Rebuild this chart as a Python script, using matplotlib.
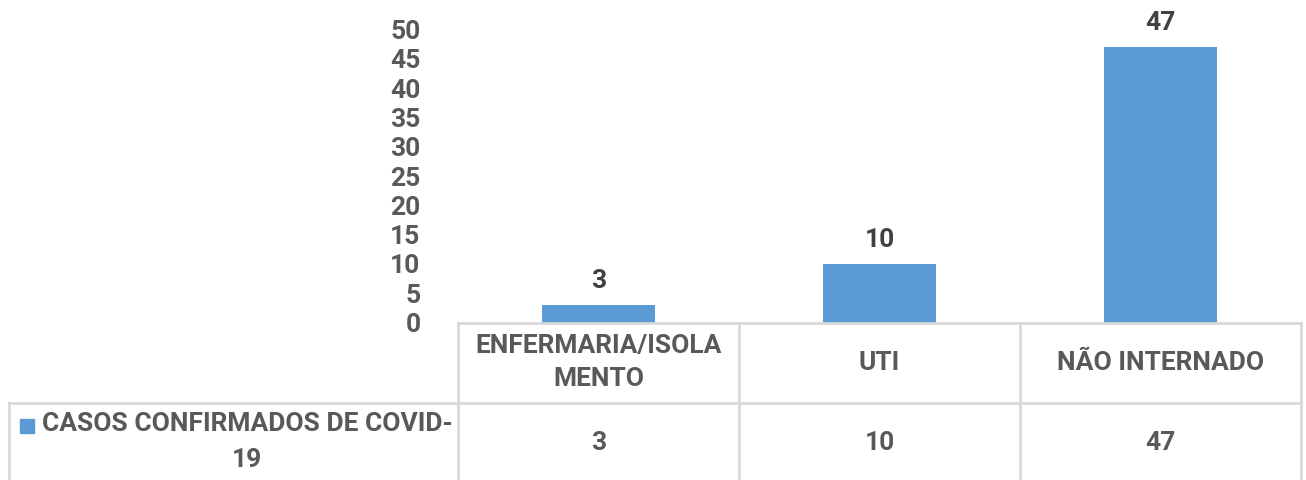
import matplotlib.pyplot as plt
from matplotlib.lines import Line2D
from matplotlib.patches import Rectangle

categories = ["ENFERMARIA/ISOLAMENTO", "UTI", "NÃO INTERNADO"]
header_labels = ["ENFERMARIA/ISOLA\nMENTO", "UTI", "NÃO INTERNADO"]
values = [3, 10, 47]
series_name = "CASOS CONFIRMADOS DE COVID-\n19"
yticks = list(range(0, 55, 5))

W, H = 1306, 480
bar_color = "#5B9BD5"
text_color = "#595959"
grid_color = "#D9D9D9"

plt.rcParams['font.family'] = ['Roboto', 'DejaVu Sans']
plt.rcParams['font.weight'] = 'bold'
FS = 19

fig = plt.figure(figsize=(W / 100, H / 100), dpi=100)

# plot area in pixels
left, right, top, base = 458, 1301, 29.5, 322.5
ax = fig.add_axes([left / W, (H - base) / H, (right - left) / W, (base - top) / H])
x = range(len(values))
bars = ax.bar(x, values, width=0.4, color=bar_color)
ax.set_xlim(-0.5, len(values) - 0.5)
ax.set_ylim(0, 50)
ax.set_yticks(yticks)
ax.set_yticklabels([str(t) for t in yticks], fontsize=FS, color=text_color,
                   fontweight='bold')
ax.tick_params(axis='y', length=0, pad=27)
ax.set_xticks([])
for s in ax.spines.values():
    s.set_visible(False)

for xi, v in zip(x, values):
    ax.text(xi, v + 2.0, str(v), ha='center', va='bottom', fontsize=FS,
            color="#404040", fontweight='bold')

# data table drawn in pixel coordinates
def px(xp, yp):
    return xp / W, 1 - yp / H

def hline(y, x0, x1):
    (a, b), (c, d) = px(x0, y), px(x1, y)
    fig.add_artist(Line2D([a, c], [b, d], color=grid_color, lw=2))

def vline(xp, y0, y1):
    (a, b), (c, d) = px(xp, y0), px(xp, y1)
    fig.add_artist(Line2D([a, c], [b, d], color=grid_color, lw=2))

row1, row2, row3 = 322.5, 402.5, 481
col_w = (right - left) / len(values)
hline(row1, left, right)
hline(row2, 9, right)
for i in range(len(values) + 1):
    vline(left + i * col_w, row1, row3)
vline(9, row2, row3)

for i, (lab, v) in enumerate(zip(header_labels, values)):
    cx = left + (i + 0.5) * col_w
    fig.text(*px(cx, (row1 + row2) / 2), lab, ha='center', va='center',
             fontsize=FS, color=text_color, linespacing=1.46, fontweight='bold')
    fig.text(*px(cx, (row2 + row3) / 2 + 1), str(v), ha='center', va='center',
             fontsize=FS, color=text_color, fontweight='bold')

# legend cell
fig.add_artist(Rectangle(px(20, 433), 14 / W, 14 / H, color=bar_color,
                         transform=fig.transFigure))
fig.text(*px(247, 442), series_name, ha='center', va='center', fontsize=FS,
         color=text_color, linespacing=1.6, fontweight='bold')

fig.savefig("out.png", dpi=100)
